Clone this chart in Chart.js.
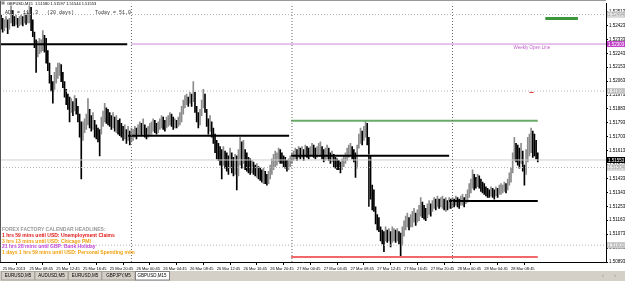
<!DOCTYPE html>
<html>
<head>
<meta charset="utf-8">
<script src="https://cdn.jsdelivr.net/npm/chart.js@4.4.1/dist/chart.umd.min.js"></script>
<style>
  html, body { margin: 0; padding: 0; background: #fff; overflow: hidden; }
</style>
</head>
<body>
<canvas id="chart" width="625" height="281"></canvas>
<script>
// GBPUSD M15 bars, 25 Mar 04:30 -> 28 Mar 12:45 (one entry per bar)
var highs = [
  1.5249,1.5247,1.5246,1.5248,1.5246,1.5247,1.5255,1.5252,1.5248,1.5249,
  1.5247,1.5248,1.5249,1.5248,1.5250,1.5249,1.5251,1.5255,1.5254,1.5246,
  1.5238,1.5233,1.5232,1.5234,1.5233,1.5239,1.5236,1.5234,1.5226,1.5218,
  1.5210,1.5206,1.5212,1.5215,1.5218,1.5218,1.5217,1.5212,1.5206,1.5201,
  1.5198,1.5196,1.5195,1.5193,1.5197,1.5195,1.5190,1.5185,1.5180,1.5180,
  1.5182,1.5185,1.5195,1.5188,1.5184,1.5186,1.5181,1.5178,1.5176,1.5175,
  1.5183,1.5187,1.5192,1.5189,1.5188,1.5186,1.5184,1.5186,1.5183,1.5184,
  1.5181,1.5182,1.5179,1.5177,1.5178,1.5175,1.5177,1.5174,1.5176,1.5175,
  1.5177,1.5176,1.5178,1.5180,1.5179,1.5182,1.5178,1.5176,1.5177,1.5179,
  1.5180,1.5182,1.5181,1.5179,1.5180,1.5182,1.5184,1.5183,1.5181,1.5183,
  1.5184,1.5186,1.5185,1.5183,1.5182,1.5181,1.5183,1.5186,1.5190,1.5194,
  1.5197,1.5198,1.5196,1.5199,1.5198,1.5206,1.5199,1.5190,1.5186,1.5188,
  1.5194,1.5201,1.5198,1.5188,1.5182,1.5184,1.5180,1.5176,1.5172,1.5168,
  1.5166,1.5164,1.5162,1.5164,1.5161,1.5160,1.5158,1.5163,1.5160,1.5157,
  1.5159,1.5158,1.5162,1.5170,1.5167,1.5168,1.5162,1.5160,1.5157,1.5156,
  1.5155,1.5154,1.5152,1.5153,1.5151,1.5150,1.5149,1.5150,1.5148,1.5146,
  1.5148,1.5152,1.5156,1.5159,1.5161,1.5160,1.5163,1.5162,1.5160,1.5158,
  1.5157,1.5155,1.5156,1.5158,1.5160,1.5161,1.5163,1.5162,1.5164,1.5163,
  1.5164,1.5162,1.5165,1.5164,1.5163,1.5164,1.5166,1.5165,1.5163,1.5164,
  1.5166,1.5167,1.5164,1.5162,1.5163,1.5165,1.5163,1.5160,1.5161,1.5159,
  1.5157,1.5156,1.5155,1.5154,1.5156,1.5158,1.5160,1.5163,1.5165,1.5166,
  1.5164,1.5162,1.5160,1.5165,1.5172,1.5176,1.5174,1.5177,1.5181,1.5179,
  1.5170,1.5158,1.5139,1.5136,1.5125,1.5120,1.5118,1.5112,1.5110,1.5109,
  1.5112,1.5110,1.5111,1.5109,1.5112,1.5111,1.5110,1.5111,1.5109,1.5108,
  1.5112,1.5116,1.5119,1.5121,1.5118,1.5120,1.5122,1.5124,1.5121,1.5123,
  1.5126,1.5131,1.5128,1.5126,1.5124,1.5127,1.5129,1.5127,1.5129,1.5131,
  1.5130,1.5132,1.5130,1.5131,1.5132,1.5130,1.5131,1.5129,1.5131,1.5130,
  1.5131,1.5130,1.5132,1.5131,1.5130,1.5132,1.5133,1.5131,1.5133,1.5136,
  1.5140,1.5143,1.5149,1.5146,1.5144,1.5146,1.5145,1.5143,1.5141,1.5140,
  1.5138,1.5137,1.5136,1.5138,1.5137,1.5136,1.5138,1.5137,1.5139,1.5140,
  1.5139,1.5141,1.5140,1.5143,1.5147,1.5150,1.5160,1.5170,1.5166,1.5165,
  1.5163,1.5166,1.5161,1.5152,1.5162,1.5170,1.5172,1.5176,1.5174,1.5172,
  1.5168,1.5160
];
var lows = [
  1.5240,1.5238,1.5239,1.5241,1.5237,1.5240,1.5244,1.5242,1.5242,1.5243,
  1.5241,1.5242,1.5243,1.5242,1.5244,1.5243,1.5244,1.5244,1.5239,1.5235,
  1.5228,1.5212,1.5222,1.5224,1.5225,1.5226,1.5225,1.5218,1.5213,1.5205,
  1.5200,1.5192,1.5201,1.5205,1.5208,1.5210,1.5206,1.5202,1.5196,1.5191,
  1.5188,1.5180,1.5186,1.5184,1.5187,1.5185,1.5180,1.5170,1.5143,1.5168,
  1.5173,1.5175,1.5178,1.5176,1.5174,1.5175,1.5170,1.5169,1.5167,1.5158,
  1.5172,1.5177,1.5180,1.5179,1.5178,1.5177,1.5175,1.5176,1.5174,1.5173,
  1.5172,1.5171,1.5170,1.5168,1.5169,1.5166,1.5168,1.5165,1.5167,1.5168,
  1.5170,1.5169,1.5171,1.5172,1.5171,1.5172,1.5170,1.5169,1.5170,1.5171,
  1.5172,1.5174,1.5173,1.5172,1.5173,1.5175,1.5176,1.5175,1.5174,1.5176,
  1.5177,1.5178,1.5177,1.5175,1.5176,1.5176,1.5177,1.5178,1.5180,1.5185,
  1.5189,1.5191,1.5190,1.5192,1.5190,1.5193,1.5186,1.5180,1.5176,1.5178,
  1.5184,1.5189,1.5186,1.5177,1.5172,1.5174,1.5170,1.5166,1.5160,1.5156,
  1.5155,1.5152,1.5143,1.5152,1.5150,1.5148,1.5146,1.5150,1.5147,1.5145,
  1.5146,1.5136,1.5145,1.5152,1.5150,1.5153,1.5149,1.5148,1.5147,1.5146,
  1.5147,1.5146,1.5145,1.5144,1.5143,1.5142,1.5141,1.5140,1.5140,1.5139,
  1.5140,1.5143,1.5146,1.5149,1.5151,1.5152,1.5154,1.5153,1.5153,1.5151,
  1.5150,1.5148,1.5149,1.5151,1.5153,1.5155,1.5156,1.5155,1.5157,1.5156,
  1.5157,1.5155,1.5158,1.5157,1.5156,1.5158,1.5158,1.5157,1.5156,1.5157,
  1.5159,1.5158,1.5156,1.5154,1.5155,1.5156,1.5155,1.5153,1.5154,1.5151,
  1.5150,1.5149,1.5149,1.5147,1.5149,1.5151,1.5153,1.5155,1.5157,1.5158,
  1.5156,1.5154,1.5144,1.5150,1.5163,1.5166,1.5165,1.5168,1.5170,1.5165,
  1.5159,1.5130,1.5123,1.5122,1.5114,1.5110,1.5109,1.5103,1.5101,1.5096,
  1.5103,1.5102,1.5103,1.5099,1.5102,1.5103,1.5102,1.5103,1.5101,1.5093,
  1.5100,1.5106,1.5110,1.5112,1.5110,1.5112,1.5112,1.5115,1.5113,1.5115,
  1.5116,1.5119,1.5118,1.5117,1.5116,1.5118,1.5120,1.5119,1.5122,1.5124,
  1.5123,1.5125,1.5124,1.5125,1.5124,1.5123,1.5122,1.5123,1.5124,1.5124,
  1.5125,1.5125,1.5126,1.5125,1.5124,1.5126,1.5126,1.5125,1.5127,1.5128,
  1.5131,1.5134,1.5137,1.5136,1.5137,1.5138,1.5137,1.5135,1.5134,1.5133,
  1.5132,1.5131,1.5131,1.5132,1.5131,1.5130,1.5132,1.5131,1.5133,1.5133,
  1.5134,1.5135,1.5134,1.5136,1.5139,1.5141,1.5147,1.5155,1.5154,1.5152,
  1.5150,1.5153,1.5148,1.5139,1.5146,1.5154,1.5158,1.5160,1.5157,1.5158,
  1.5156,1.5154
];

// time axis: bar index of each label and its text
var timeTickIdx = [1,17,33,49,65,81,97,113,129,145,161,177,193,209,225,241,257,273,289,305];
var timeLabels = [
  "25 Mar 2013","25 Mar 08:45","25 Mar 12:45","25 Mar 16:45","25 Mar 20:45",
  "26 Mar 00:45","26 Mar 04:45","26 Mar 08:45","26 Mar 12:45","26 Mar 16:45",
  "26 Mar 20:45","27 Mar 00:45","27 Mar 04:45","27 Mar 08:45","27 Mar 12:45",
  "27 Mar 16:45","27 Mar 20:45","28 Mar 00:45","28 Mar 04:45","28 Mar 08:45"
];
var priceTicks = [1.50893,1.50983,1.51073,1.51163,1.51253,1.51343,1.51433,1.51523,1.51613,
  1.51703,1.51793,1.51883,1.51973,1.52063,1.52153,1.52243,1.52333,1.52423,1.52513];

// day separators (bar index of 00:00)
var daySeparators = [78, 174, 270];
// previous-day levels and their spans in bar index
var dayLevels = [1.52301, 1.51709, 1.51581, 1.51288];
var dayLevelSpans = [[-0.6, 75.5], [76, 172.3], [173.5, 268], [268, 321]];
var todayHigh = 1.51806, todayLow = 1.50925, todaySpan = [173.5, 321];
var weeklyOpen = 1.52303;
var adrLevels = [1.52494, 1.51999, 1.51504, 1.51002];
var projLevel = 1.52468, projSpan = [325.5, 345];
var bid = 1.51553;
var dropLine = [220, 1.51581, 1.51250];

var headlines = [
  "FOREX FACTORY CALENDAR HEADLINES:",
  "1 hrs 59 mins until USD: Unemployment Claims",
  "3 hrs 13 mins until USD: Chicago PMI",
  "21 hrs 28 mins until GBP: Bank Holiday",
  "1 days 1 hrs 59 mins until USD: Personal Spending m/m"
];
var headlineColors = ["#9a9a9a", "#e01818", "#f0a010", "#c048d8", "#f0a010"];
var tabs = ["EURUSD,M5", "AUDUSD,M5", "EURUSD,M5", "GBPJPY,M5", "GBPUSD,M15"];

var YMIN = 1.50893, YMAX = 1.52564, XMIN = -0.6, XMAX = 361.8;

var barColors = highs.map(function (h, i) {
  if (i === 0) return "#000";
  var m = (h + lows[i]) / 2, p = (highs[i - 1] + lows[i - 1]) / 2;
  return m >= p ? "#8c8c8c" : "#000";
});

function seg(x1, y1, x2, y2, color, width, dash) {
  return {
    type: "line",
    data: [{ x: x1, y: y1 }, { x: x2, y: y2 }],
    borderColor: color,
    borderWidth: width,
    borderDash: dash || [],
    pointRadius: 0,
    fill: false,
    order: 0
  };
}

var datasets = [];
daySeparators.forEach(function (d) { datasets.push(seg(d, YMIN, d, YMAX, "#666", 1, [1, 2])); });
adrLevels.forEach(function (v) { datasets.push(seg(XMIN, v, XMAX, v, "#b4b4b4", 1, [1, 2])); });
datasets.push(seg(XMIN, bid, XMAX, bid, "#cfcfcf", 1));
datasets.push(seg(77.8, weeklyOpen, XMAX, weeklyOpen, "#cc88d8", 1));
dayLevels.forEach(function (v, i) { datasets.push(seg(dayLevelSpans[i][0], v, dayLevelSpans[i][1], v, "#000", 2)); });
datasets.push(seg(dropLine[0], dropLine[1], dropLine[0], dropLine[2], "#000", 1.5));
datasets.push(seg(todaySpan[0], todayHigh, todaySpan[1], todayHigh, "#6aaa6a", 2));
datasets.push(seg(todaySpan[0], todayLow, todaySpan[1], todayLow, "#f06868", 2));
datasets.push(seg(projSpan[0], projLevel, projSpan[1], projLevel, "#3c963c", 3));
datasets.push(seg(316, 1.5199, 318.5, 1.5199, "#e03030", 1));
datasets.push({
  type: "bar",
  data: highs.map(function (h, i) { return { x: i, y: [lows[i], h] }; }),
  backgroundColor: barColors,
  barThickness: 1,
  order: 1
});

function axisBox(ctx, area, py, text, bg, fg, border) {
  ctx.fillStyle = bg;
  ctx.fillRect(area.right + 1, py - 3, 18, 6);
  if (border) { ctx.strokeStyle = border; ctx.strokeRect(area.right + 1.5, py - 2.5, 17, 5); }
  ctx.fillStyle = fg;
  ctx.fillText(text, area.right + 2, py + 0.3);
}

var overlay = {
  id: "overlay",
  afterDraw: function (chart) {
    var ctx = chart.ctx, a = chart.chartArea, ys = chart.scales.y, xs = chart.scales.x;
    ctx.save();
    // frame
    ctx.strokeStyle = "#555";
    ctx.lineWidth = 1;
    ctx.beginPath(); ctx.moveTo(0.5, 0); ctx.lineTo(0.5, a.bottom); ctx.stroke();
    ctx.strokeStyle = "#999";
    ctx.beginPath(); ctx.moveTo(0, 0.5); ctx.lineTo(a.right, 0.5); ctx.stroke();

    // price boxes on the axis
    ctx.font = '4.5px "Liberation Sans"';
    ctx.textBaseline = "middle";
    ctx.textAlign = "left";
    adrLevels.forEach(function (v) {
      axisBox(ctx, a, ys.getPixelForValue(v), v.toFixed(5), "#e6e6e6", "#a0a0a0", "#c8c8c8");
    });
    axisBox(ctx, a, ys.getPixelForValue(weeklyOpen), weeklyOpen.toFixed(5), "#c040c8", "#fff");
    axisBox(ctx, a, ys.getPixelForValue(bid), bid.toFixed(5), "#000", "#fff");

    // weekly open label
    ctx.fillStyle = "#c060c8";
    ctx.font = '4.5px "Liberation Sans"';
    ctx.textBaseline = "top";
    ctx.fillText("Weekly Open Line", xs.getPixelForValue(306.5), ys.getPixelForValue(weeklyOpen) + 1.5);

    // header texts
    ctx.fillStyle = "#888";
    ctx.fillRect(1.5, 1.5, 3, 3);
    ctx.fillStyle = "#000";
    ctx.font = '4px "Liberation Sans"';
    ctx.textBaseline = "middle";
    ctx.fillText("GBPUSD,M15  1.51580 1.51597 1.51544 1.51553", 7, 3.5);
    ctx.fillStyle = "#333";
    ctx.font = '5px "Liberation Mono"';
    ctx.fillText("ADR = 113.3   (20 days)       Today = 51.0", 5, 13);

    // calendar headlines
    ctx.font = 'bold 5px "Liberation Sans"';
    headlines.forEach(function (t, i) {
      ctx.fillStyle = headlineColors[i];
      ctx.fillText(t, 2, 230 + i * 5.6);
    });

    // tab strip
    ctx.fillStyle = "#d4d0c8";
    ctx.fillRect(0, 271, 625, 10);
    ctx.font = '4.5px "Liberation Sans"';
    ctx.textAlign = "center";
    tabs.forEach(function (t, i) {
      var x0 = 1 + i * 33.5, active = i === tabs.length - 1;
      if (active) {
        ctx.fillStyle = "#fff";
        ctx.fillRect(x0, 271, 34, 9);
      }
      ctx.strokeStyle = active ? "#808080" : "#a8a49c";
      ctx.strokeRect(x0 + 0.5, 271.5, active ? 34 : 33, 8.5);
      ctx.fillStyle = "#000";
      ctx.fillText(t, x0 + 17, 276);
    });
    ctx.fillStyle = "#777";
    ctx.fillText("\u2039", 603, 276);
    ctx.fillText("\u203A", 615, 276);
    ctx.restore();
  }
};

new Chart(document.getElementById("chart"), {
  type: "bar",
  data: { datasets: datasets },
  options: {
    responsive: false,
    animation: false,
    layout: { padding: 0 },
    plugins: { legend: { display: false }, tooltip: { enabled: false } },
    scales: {
      x: {
        type: "linear",
        min: XMIN,
        max: XMAX,
        offset: false,
        afterBuildTicks: function (s) { s.ticks = timeTickIdx.map(function (v) { return { value: v }; }); },
        afterFit: function (s) { s.height = 19; },
        ticks: {
          autoSkip: false,
          maxRotation: 0,
          align: "start",
          padding: 1,
          color: "#000",
          font: { family: "Liberation Sans", size: 4 },
          callback: function (v, i) { return timeLabels[i]; }
        },
        grid: { drawOnChartArea: false, tickLength: 3, color: "#000" },
        border: { color: "#000" }
      },
      y: {
        position: "right",
        min: YMIN,
        max: YMAX,
        afterBuildTicks: function (s) { s.ticks = priceTicks.map(function (v) { return { value: v }; }); },
        afterFit: function (s) { s.width = 19; },
        ticks: {
          padding: 1,
          color: "#000",
          font: { family: "Liberation Sans", size: 4.5 },
          callback: function (v) { return v.toFixed(5); }
        },
        grid: { drawOnChartArea: false, tickLength: 2, color: "#000" },
        border: { color: "#000" }
      }
    }
  },
  plugins: [overlay]
});
</script>
</body>
</html>
